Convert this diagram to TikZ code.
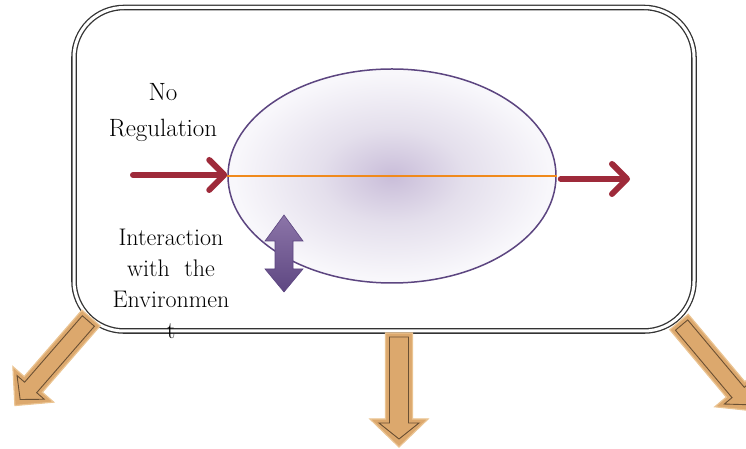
\documentclass[tikz,border=0pt]{standalone}
\usepackage{tikz}
\usetikzlibrary{shapes.geometric,arrows.meta}

\definecolor{cellrim}{HTML}{5C4580}
\definecolor{cellmid}{HTML}{C9BDD9}
\definecolor{cellhalf}{HTML}{E4DFEC}
\definecolor{celledge}{HTML}{F8F7FB}
\definecolor{flowred}{HTML}{9E2A3A}
\definecolor{axisorange}{HTML}{F08A1C}
\definecolor{tanfill}{HTML}{DCA86D}
\definecolor{tanlight}{HTML}{EBC492}
\definecolor{tandark}{HTML}{6B5033}
\definecolor{lilac}{HTML}{8C75A8}
\definecolor{lilacdark}{HTML}{5E4782}

\pgfdeclareradialshading{cellshade}{\pgfpoint{0bp}{0bp}}{color(0bp)=(cellmid); color(11bp)=(cellhalf); color(24bp)=(celledge); color(50bp)=(celledge)}

% fat tan arrow: shift, angle, length, shaft half width, head half width
\newcommand{\tanArrow}[5]{%
\begin{scope}[shift={#1}, rotate=#2]
\draw [tanlight, line width=1.2pt, fill=tanfill] (0,#4) -- ({#3-28},#4) -- ({#3-28},#5) -- (#3,0) -- ({#3-28},-#5) -- ({#3-28},-#4) -- (0,-#4) -- cycle;
\draw [tandark, line width=0.9pt] (4,{#4-4}) -- ({#3-24},{#4-4}) -- ({#3-24},{#5-9}) -- ({#3-8},0) -- ({#3-24},{-#5+9}) -- ({#3-24},{-#4+4}) -- (4,{-#4+4}) -- cycle;
\end{scope}}

\begin{document}
\begin{tikzpicture}[x=1pt,y=1pt,
  label text/.style={align=center, anchor=north, inner sep=0pt},
  flow/.style={flowred, line width=6pt, line cap=round, line join=round,
    -{Straight Barb[length=15pt,width=30pt,line cap=round,line join=round]}}]
\useasboundingbox (0,0) rectangle (746,449);

% frame
\draw [black!80, double=white, double distance=3pt, line width=1.3pt, rounded corners=50pt] (74,118) rectangle (694,441.5);

% cell
\node [ellipse, draw=cellrim, line width=1.5pt, shading=cellshade, minimum width=328pt, minimum height=214pt, inner sep=0pt] (cell) at (392,273) {};
\draw [axisorange, line width=2pt] (cell.west) -- (cell.east);

% flows in and out
\coordinate (inL) at (133,274);
\coordinate (outR) at (630,270);
\draw [flow] (inL) -- ([yshift=1pt]cell.west);
\draw [flow] ([yshift=-3pt,xshift=4pt]cell.east) -- (outR);

% interaction arrow
\draw [cellrim, line width=0.6pt, top color=lilac, bottom color=lilacdark] (284,234) -- (303,208) -- (293,208) -- (293,180) -- (303,180) -- (284,157) -- (265,180) -- (275,180) -- (275,208) -- (265,208) -- cycle;

% labels
\node [label text, font=\fontsize{25}{36}\selectfont] (noreg) at (163,366) {No\\Regulation};
\node [label text, font=\fontsize{24}{31}\selectfont] (interact) at (171,220.5) {Interaction\\with\ \ the\\Environmen\\t};

% outputs
\tanArrow{(91,131)}{-131}{116}{12}{27}
\tanArrow{(399,116)}{-90}{114}{13.5}{29}
\tanArrow{(679,127)}{-50}{116}{12}{27}
\end{tikzpicture}
\end{document}
